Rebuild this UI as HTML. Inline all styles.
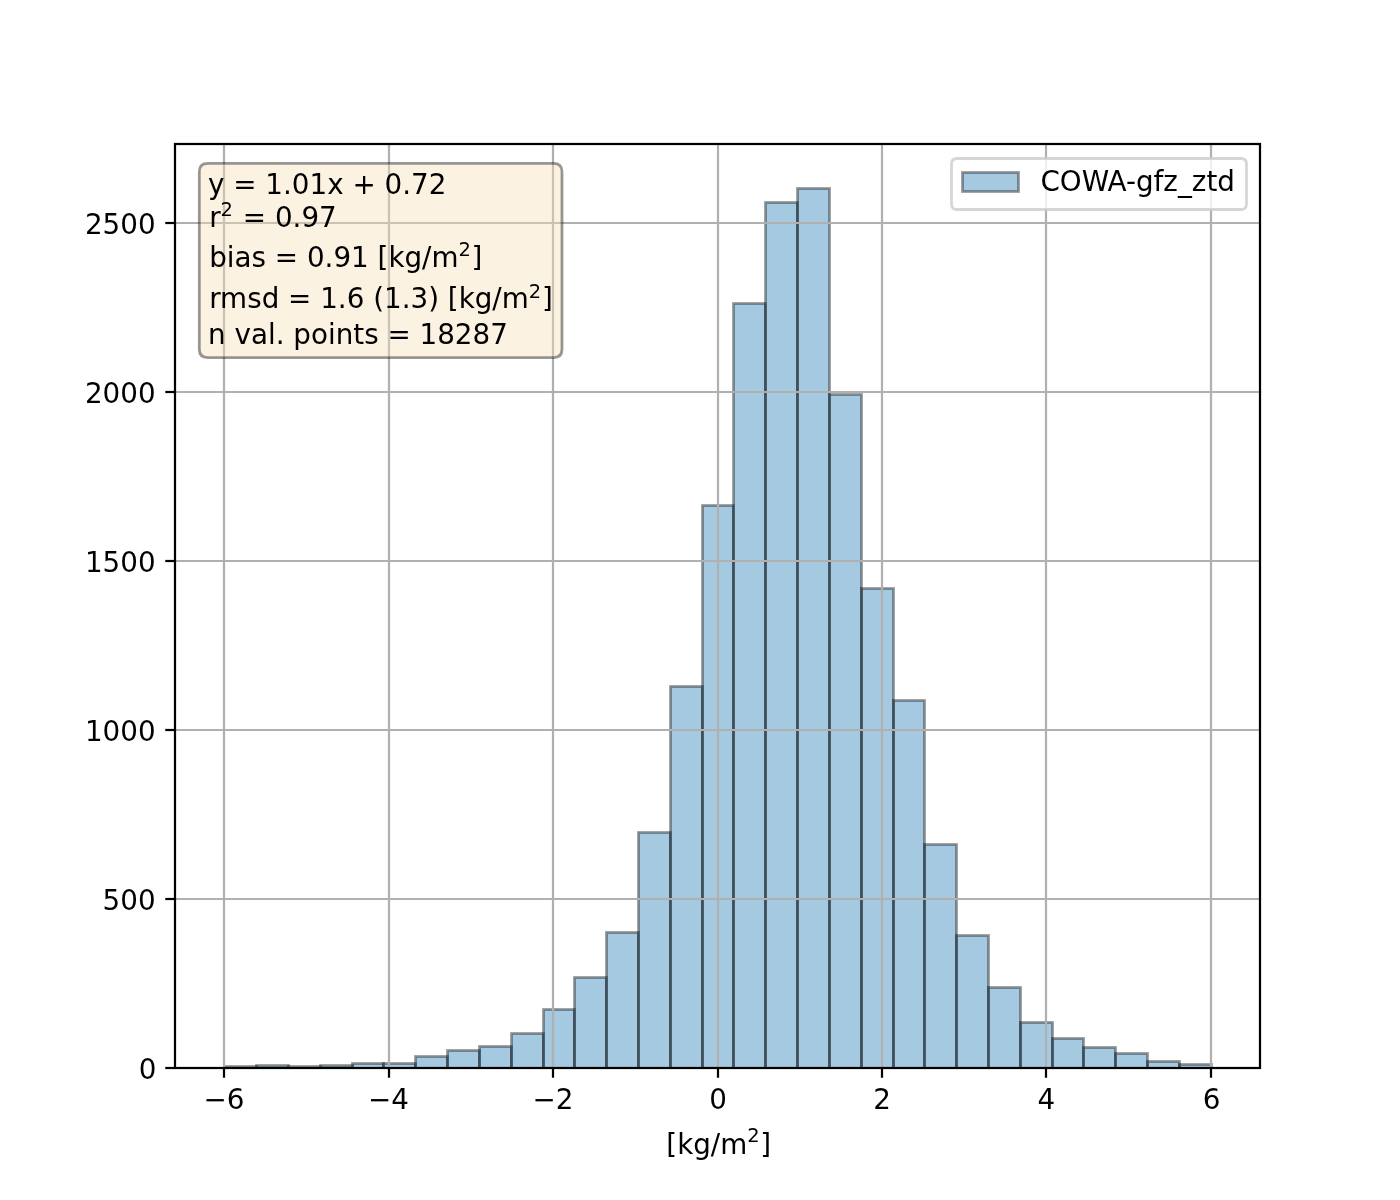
<!DOCTYPE html>
<html lang="en"><head><meta charset="utf-8"><title>COWA-gfz_ztd histogram</title>
<style>html,body{margin:0;padding:0;background:#fff}svg{display:block}text{font-family:"DejaVu Sans","Liberation Sans",sans-serif;fill:#000}</style></head>
<body>
<svg width="1400" height="1200" viewBox="0 0 1400 1200" font-size="27.78">
<rect width="1400" height="1200" fill="#fff"/>
<defs><clipPath id="ax"><rect x="175.0" y="144.0" width="1085.0" height="924.0"/></clipPath></defs>
<g clip-path="url(#ax)" fill="#1f77b4" fill-opacity="0.4" stroke="#000" stroke-opacity="0.4" stroke-width="2.778" stroke-linejoin="miter">
<rect x="224.5" y="1066.5" width="32.0" height="2.0"/>
<rect x="256.5" y="1065.5" width="32.0" height="3.0"/>
<rect x="288.5" y="1066.5" width="32.0" height="2.0"/>
<rect x="320.5" y="1065.5" width="32.0" height="3.0"/>
<rect x="352.5" y="1063.5" width="31.0" height="5.0"/>
<rect x="383.5" y="1063.5" width="32.0" height="5.0"/>
<rect x="415.5" y="1056.5" width="32.0" height="12.0"/>
<rect x="447.5" y="1050.5" width="32.0" height="18.0"/>
<rect x="479.5" y="1046.5" width="32.0" height="22.0"/>
<rect x="511.5" y="1033.5" width="32.0" height="35.0"/>
<rect x="543.5" y="1009.5" width="31.0" height="59.0"/>
<rect x="574.5" y="977.5" width="32.0" height="91.0"/>
<rect x="606.5" y="932.5" width="32.0" height="136.0"/>
<rect x="638.5" y="832.5" width="32.0" height="236.0"/>
<rect x="670.5" y="686.5" width="32.0" height="382.0"/>
<rect x="702.5" y="505.5" width="31.0" height="563.0"/>
<rect x="733.5" y="303.5" width="32.0" height="765.0"/>
<rect x="765.5" y="202.5" width="32.0" height="866.0"/>
<rect x="797.5" y="188.5" width="32.0" height="880.0"/>
<rect x="829.5" y="394.5" width="32.0" height="674.0"/>
<rect x="861.5" y="588.5" width="32.0" height="480.0"/>
<rect x="893.5" y="700.5" width="31.0" height="368.0"/>
<rect x="924.5" y="844.5" width="32.0" height="224.0"/>
<rect x="956.5" y="935.5" width="32.0" height="133.0"/>
<rect x="988.5" y="987.5" width="32.0" height="81.0"/>
<rect x="1020.5" y="1022.5" width="32.0" height="46.0"/>
<rect x="1052.5" y="1038.5" width="31.0" height="30.0"/>
<rect x="1083.5" y="1047.5" width="32.0" height="21.0"/>
<rect x="1115.5" y="1053.5" width="32.0" height="15.0"/>
<rect x="1147.5" y="1061.5" width="32.0" height="7.0"/>
<rect x="1179.5" y="1064.5" width="32.0" height="4.0"/>
</g>
<g clip-path="url(#ax)" stroke="#b0b0b0" stroke-width="2.222" fill="none">
<line x1="224" y1="144.0" x2="224" y2="1068.0"/>
<line x1="389" y1="144.0" x2="389" y2="1068.0"/>
<line x1="553" y1="144.0" x2="553" y2="1068.0"/>
<line x1="718" y1="144.0" x2="718" y2="1068.0"/>
<line x1="882" y1="144.0" x2="882" y2="1068.0"/>
<line x1="1046" y1="144.0" x2="1046" y2="1068.0"/>
<line x1="1211" y1="144.0" x2="1211" y2="1068.0"/>
<line x1="175.0" y1="1068" x2="1260.0" y2="1068"/>
<line x1="175.0" y1="899" x2="1260.0" y2="899"/>
<line x1="175.0" y1="730" x2="1260.0" y2="730"/>
<line x1="175.0" y1="561" x2="1260.0" y2="561"/>
<line x1="175.0" y1="392" x2="1260.0" y2="392"/>
<line x1="175.0" y1="223" x2="1260.0" y2="223"/>
</g>
<g stroke="#000" stroke-width="2.222" fill="none">
<line x1="224" y1="1068.0" x2="224" y2="1077.722"/>
<line x1="389" y1="1068.0" x2="389" y2="1077.722"/>
<line x1="553" y1="1068.0" x2="553" y2="1077.722"/>
<line x1="718" y1="1068.0" x2="718" y2="1077.722"/>
<line x1="882" y1="1068.0" x2="882" y2="1077.722"/>
<line x1="1046" y1="1068.0" x2="1046" y2="1077.722"/>
<line x1="1211" y1="1068.0" x2="1211" y2="1077.722"/>
<line x1="175.0" y1="1068" x2="165.278" y2="1068"/>
<line x1="175.0" y1="899" x2="165.278" y2="899"/>
<line x1="175.0" y1="730" x2="165.278" y2="730"/>
<line x1="175.0" y1="561" x2="165.278" y2="561"/>
<line x1="175.0" y1="392" x2="165.278" y2="392"/>
<line x1="175.0" y1="223" x2="165.278" y2="223"/>
</g>
<g text-anchor="middle">
<text x="224" y="1108.5">−6</text>
<text x="388.4" y="1108.5">−4</text>
<text x="553" y="1108.5">−2</text>
<text x="718" y="1108.5">0</text>
<text x="882" y="1108.5">2</text>
<text x="1046.3" y="1108.5">4</text>
<text x="1211.7" y="1108.5">6</text>
</g>
<g text-anchor="end">
<text x="156.4" y="1078.55">0</text>
<text x="155.6" y="909.55">500</text>
<text x="155.6" y="740.55">1000</text>
<text x="155.6" y="571.55">1500</text>
<text x="155.6" y="402.55">2000</text>
<text x="155.6" y="233.55">2500</text>
</g>
<text x="666.3" y="1154">[kg/m<tspan font-size="19.44" dy="-11.7">2</tspan><tspan dy="11.7" dx="0.7">]</tspan></text>
<rect x="175.0" y="144.0" width="1085.0" height="924.0" fill="none" stroke="#000" stroke-width="2.222" stroke-linejoin="miter"/>
<path d="M207.63 357.70L553.67 357.70Q562.00 357.70 562.00 349.37L562.00 171.73Q562.00 163.40 553.67 163.40L207.63 163.40Q199.30 163.40 199.30 171.73L199.30 349.37Q199.30 357.70 207.63 357.70Z" fill="#f5deb3" fill-opacity="0.4" stroke="#000" stroke-opacity="0.4" stroke-width="2.778"/>
<text x="208.0" y="193.5">y = 1.01x + 0.72</text>
<text x="209.2" y="226.5">r<tspan font-size="19.44" dy="-10.6">2</tspan><tspan dy="10.6" dx="1.0"> = 0.97</tspan></text>
<text x="209.2" y="267.4">bias = 0.91 [kg/m<tspan font-size="19.44" dy="-11.5">2</tspan><tspan dy="11.5" dx="0.6">]</tspan></text>
<text x="209.2" y="308.4">rmsd = 1.6 (1.3) [kg/m<tspan font-size="19.44" dy="-10.6">2</tspan><tspan dy="10.6" dx="0.8">]</tspan></text>
<text x="208.1" y="343.5">n val. points = 18287</text>
<path d="M957.06 209.50L1240.94 209.50Q1246.50 209.50 1246.50 203.94L1246.50 164.06Q1246.50 158.50 1240.94 158.50L957.06 158.50Q951.50 158.50 951.50 164.06L951.50 203.94Q951.50 209.50 957.06 209.50Z" fill="#fff" fill-opacity="0.8" stroke="#ccc" stroke-opacity="0.8" stroke-width="2.778"/>
<rect x="962.50" y="172.50" width="56.00" height="19.00" fill="#1f77b4" fill-opacity="0.4" stroke="#000" stroke-opacity="0.4" stroke-width="2.778"/>
<text x="1040.4" y="191.1">COWA-gfz_ztd</text>
</svg>
</body></html>
